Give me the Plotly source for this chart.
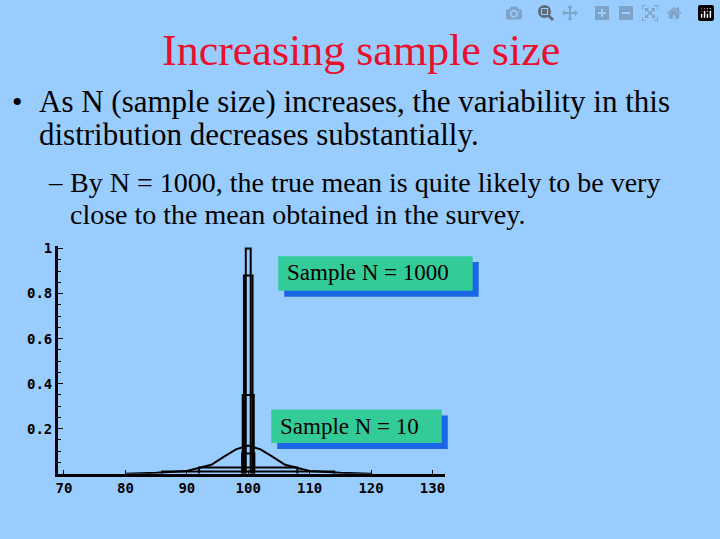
import plotly.graph_objects as go

W, H = 720, 539

# step outlines of the sampling distributions
spike_x = [99.6, 99.6, 100.4, 100.4]
spike_y = [0, 1.0, 1.0, 0]
mid1_x = [99.3, 99.3, 100.7, 100.7]
mid1_y = [0, 0.88, 0.88, 0]
mid2_x = [99.1, 99.1, 100.9, 100.9]
mid2_y = [0, 0.35, 0.35, 0]
mid3_x = [99.0, 99.0, 101.0, 101.0]
mid3_y = [0, 0.09, 0.09, 0]
box1_x = [92, 92, 108, 108]
box1_y = [0, 0.028, 0.028, 0]
box2_x = [86, 86, 114, 114]
box2_y = [0, 0.01, 0.01, 0]
n10_x = [80, 85, 90, 94, 96, 98, 100, 102, 104, 106, 110, 115, 120]
n10_y = [0, 0.004, 0.012, 0.04, 0.075, 0.108, 0.125, 0.108, 0.075, 0.04, 0.012, 0.004, 0]

x_ticks = [70, 80, 90, 100, 110, 120, 130]
y_ticks = [0.2, 0.4, 0.6, 0.8, 1]
y_labels = ["0.2", "0.4", "0.6", "0.8", "1"]

fig = go.Figure()
for xs, ys in [(spike_x, spike_y), (mid1_x, mid1_y), (mid2_x, mid2_y), (mid3_x, mid3_y),
               (box1_x, box1_y), (box2_x, box2_y), (n10_x, n10_y)]:
    fig.add_trace(go.Scatter(x=xs, y=ys, mode='lines', line=dict(color='black', width=2),
                             showlegend=False, hoverinfo='skip'))

def px(x): return x / W
def py(y): return 1 - y / H

tick_font = dict(family='DejaVu Sans Mono', size=14, color='black', weight='bold')
fig.update_layout(
    width=W, height=H, margin=dict(l=0, r=0, t=0, b=0),
    paper_bgcolor='#99ccff', plot_bgcolor='#99ccff',
    xaxis=dict(domain=[px(56), px(444)], range=[69, 132], tickvals=x_ticks,
               showgrid=False, zeroline=False, showline=True, linecolor='black', linewidth=2.5,
               ticks='inside', ticklen=4, tickcolor='black', tickfont=tick_font),
    yaxis=dict(domain=[py(473), py(243)], range=[0, 1.01], tickvals=y_ticks, ticktext=y_labels,
               showgrid=False, zeroline=False, showline=True, linecolor='black', linewidth=2.5,
               ticks='inside', ticklen=5, tickcolor='black',
               minor=dict(ticks='inside', ticklen=3, dtick=0.05, tickcolor='black'),
               tickfont=tick_font),
)

# label boxes with blue drop shadow
for (x0, y0, x1, y1) in [(277, 253, 472, 288), (270, 408, 441, 442)]:
    fig.add_shape(type='rect', xref='paper', yref='paper', x0=px(x0 + 6), x1=px(x1 + 6),
                  y0=py(y0 + 6), y1=py(y1 + 6), fillcolor='#1a66e6', line_width=0, layer='above')
    fig.add_shape(type='rect', xref='paper', yref='paper', x0=px(x0), x1=px(x1),
                  y0=py(y0), y1=py(y1), fillcolor='#33cc99', line_width=0, layer='above')

serif = 'Liberation Serif'
texts = [
    (360, 45, 'Increasing sample size', 44, '#e8102a', 'center'),
    (8, 97, '•', 30, 'black', 'left'),
    (35, 97, 'As N (sample size) increases, the variability in this', 31, 'black', 'left'),
    (35, 130, 'distribution decreases substantially.', 31, 'black', 'left'),
    (44, 178, '–', 27, 'black', 'left'),
    (66, 178, 'By N = 1000, the true mean is quite likely to be very', 28, 'black', 'left'),
    (66, 211, 'close to the mean obtained in the survey.', 28, 'black', 'left'),
    (284, 270, 'Sample N = 1000', 23, 'black', 'left'),
    (277, 425, 'Sample N = 10', 23, 'black', 'left'),
]
for x, y, t, s, c, a in texts:
    fig.add_annotation(x=px(x), y=py(y), xref='paper', yref='paper', text=t, showarrow=False,
                       xanchor=a, yanchor='middle', font=dict(family=serif, size=s, color=c))

fig.write_html("out.html", post_script="document.body.style.margin='0';")
